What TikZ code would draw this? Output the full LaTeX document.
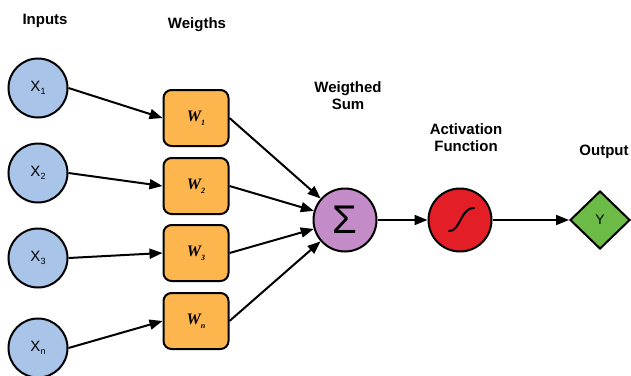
\documentclass[tikz,border=0pt]{standalone}
\usepackage{fontspec}
\setmainfont{Liberation Sans}
\newfontfamily\wfont{Liberation Serif}
\usetikzlibrary{shapes.geometric,arrows.meta}
\definecolor{inblue}{HTML}{A9C4E9}
\definecolor{worange}{HTML}{FDB54E}
\definecolor{spurple}{HTML}{C38BC7}
\definecolor{ared}{HTML}{E41E26}
\definecolor{ogreen}{HTML}{6CBB47}
\newcommand{\xsub}[1]{\raisebox{-0.45ex}{\fontsize{9}{9}\selectfont #1}}
\newcommand{\wsub}[1]{\raisebox{-0.55ex}{\fontsize{8}{8}\selectfont #1}}
\begin{document}
\begin{tikzpicture}[x=1pt,y=-1pt,
  inp/.style={circle, draw, line width=2pt, fill=inblue, minimum size=59pt, inner sep=0pt,
    font=\fontsize{15}{15}\selectfont},
  wbox/.style={rectangle, rounded corners=8pt, draw, line width=2pt, fill=worange,
    minimum width=65pt, minimum height=56pt, inner sep=0pt,
    font=\wfont\bfseries\itshape\fontsize{16}{16}\selectfont},
  opnode/.style={circle, draw, line width=2pt, minimum size=63pt, inner sep=0pt},
  lbl/.style={font=\bfseries\fontsize{15}{17}\selectfont, align=center, inner sep=0pt},
  arr/.style={-{Triangle[length=13pt,width=10pt]}, line width=2pt}]
\useasboundingbox (0,0) rectangle (631,375);

% titles
\node[lbl] (tin) at (45,21) {Inputs};
\node[lbl] (tw) at (197,25) {Weigths};
\node[lbl] (ts) at (348,96) {Weigthed\\Sum};
\node[lbl] (ta) at (466,138) {Activation\\Function};
\node[lbl] (to) at (604,152) {Output};

% inputs
\node[inp] (x1) at (38,88) {X\xsub{1}};
\node[inp] (x2) at (38,173) {X\xsub{2}};
\node[inp] (x3) at (38,258) {X\xsub{3}};
\node[inp] (xn) at (38,348) {X\xsub{n}};

% weights
\node[wbox] (w1) at (196,118) {W\wsub{1}};
\node[wbox] (w2) at (196,186) {W\wsub{2}};
\node[wbox] (w3) at (196,253) {W\wsub{3}};
\node[wbox] (wn) at (196,321) {W\wsub{n}};

% sum, activation, output
\node[opnode, fill=spurple, font=\fontsize{40}{40}\selectfont] (sum) at (345,220) {Σ};
\node[opnode, fill=ared] (act) at (460,220) {};
\node[diamond, draw, line width=2pt, fill=ogreen, minimum width=60pt, minimum height=58pt,
  inner sep=0pt, font=\fontsize{14}{14}\selectfont] (out) at (600,220) {Y};

% sigmoid glyph
\draw[line width=2pt, line cap=round] (449,231) .. controls (460,232) and (461,207) .. (474,208);

% connectors
\draw[arr] (x1.east) -- (w1.west);
\draw[arr] (x2.east) -- (w2.west);
\draw[arr] (x3.east) -- (w3.west);
\draw[arr] (xn.east) -- (wn.west);
\draw[arr] (w1.east) -- (sum);
\draw[arr] (w2.east) -- (sum);
\draw[arr] (w3.east) -- (sum);
\draw[arr] (wn.east) -- (sum);
\draw[arr] (sum) -- (act);
\draw[arr] (act) -- (out);
\end{tikzpicture}
\end{document}
